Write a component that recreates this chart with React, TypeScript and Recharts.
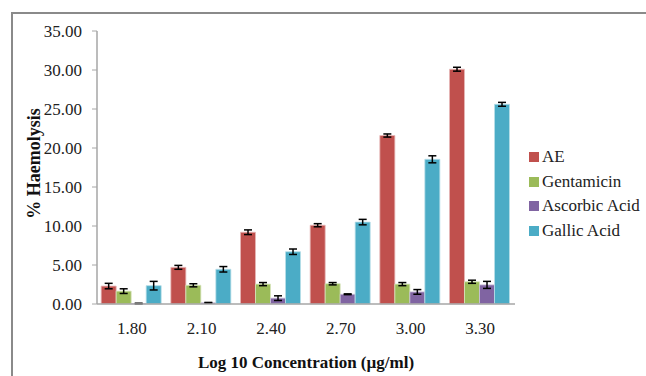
import { BarChart, Bar, XAxis, YAxis, Legend, ErrorBar } from 'recharts';

const concentrations = ['1.80', '2.10', '2.40', '2.70', '3.00', '3.30'];

const ae = [2.3, 4.7, 9.2, 10.1, 21.6, 30.1];
const gentamicin = [1.65, 2.4, 2.55, 2.6, 2.55, 2.85];
const ascorbic = [0.05, 0.15, 0.75, 1.25, 1.55, 2.45];
const gallic = [2.35, 4.45, 6.7, 10.5, 18.55, 25.6];

const aeErr = [0.35, 0.25, 0.3, 0.2, 0.2, 0.25];
const gentamicinErr = [0.3, 0.2, 0.2, 0.15, 0.2, 0.2];
const ascorbicErr = [0.05, 0.05, 0.3, 0.05, 0.3, 0.45];
const gallicErr = [0.55, 0.35, 0.35, 0.35, 0.45, 0.25];

const seriesNames = ['AE', 'Gentamicin', 'Ascorbic Acid', 'Gallic Acid'];
const yTicks = [0, 5, 10, 15, 20, 25, 30, 35];

const chartData = concentrations.map((c, i) => ({
  name: c,
  ae: ae[i],
  aeErr: aeErr[i],
  gentamicin: gentamicin[i],
  gentamicinErr: gentamicinErr[i],
  ascorbic: ascorbic[i],
  ascorbicErr: ascorbicErr[i],
  gallic: gallic[i],
  gallicErr: gallicErr[i],
}));

const font = '"Liberation Serif", "Times New Roman", serif';

function LegendBox({ payload }: any) {
  const items = [...(payload || [])].sort(
    (a: any, b: any) => seriesNames.indexOf(a.value) - seriesNames.indexOf(b.value)
  );
  return (
    <div style={{ fontFamily: font, fontSize: 17, color: '#222', whiteSpace: 'nowrap' }}>
      {items.map((p: any) => (
        <div key={p.value} style={{ height: 24.5, display: 'flex', alignItems: 'center' }}>
          <span style={{ width: 10, height: 10, background: p.color, display: 'inline-block', marginRight: 3 }} />
          {p.value}
        </div>
      ))}
    </div>
  );
}

export default function App() {
  return (
    <div style={{ position: 'fixed', left: 0, top: 0, width: 646, height: 376, overflow: 'hidden', background: '#fff' }}>
      {/* outer frame: only top and left edges fall inside the picture */}
      <div
        style={{
          position: 'absolute',
          left: 11,
          top: 12,
          width: 635,
          height: 364,
          borderTop: '2px solid #8a8a8a',
          borderLeft: '2px solid #8a8a8a',
          boxSizing: 'border-box',
        }}
      />
      <div style={{ position: 'absolute', left: 8, top: 8 }}>
        <BarChart
          width={638}
          height={368}
          data={chartData}
          margin={{ top: 23, right: 14, left: 0, bottom: 0 }}
          barCategoryGap="6%"
          barGap={0}
        >
          <XAxis
            dataKey="name"
            height={72}
            tickLine={false}
            tickSize={0}
            tickMargin={18}
            axisLine={{ stroke: '#a6a6a6', strokeWidth: 1.5 }}
            tick={{ fontFamily: font, fontSize: 17, fill: '#222' }}
            label={{
              value: 'Log 10 Concentration (µg/ml)',
              position: 'insideBottom',
              offset: 8,
              style: { fontFamily: font, fontSize: 17, fontWeight: 'bold', fill: '#111' },
            }}
          />
          <YAxis
            width={89}
            domain={[0, 35]}
            ticks={yTicks}
            interval={0}
            tickFormatter={(v: number) => v.toFixed(2)}
            tickSize={5}
            tickMargin={10}
            tickLine={{ stroke: '#a6a6a6' }}
            axisLine={{ stroke: '#a6a6a6', strokeWidth: 1.5 }}
            tick={{ fontFamily: font, fontSize: 17, fill: '#222' }}
            label={{
              value: '% Haemolysis',
              angle: -90,
              position: 'insideLeft',
              offset: 26,
              dy: -4,
              style: { textAnchor: 'middle', fontFamily: font, fontSize: 18, fontWeight: 'bold', fill: '#111' },
            }}
          />
          <Legend
            layout="vertical"
            align="right"
            verticalAlign="middle"
            content={<LegendBox />}
            wrapperStyle={{ left: 521, top: 137, width: 117 }}
          />
          <Bar dataKey="ae" name="AE" fill="#C0504D" stroke="#e6b8b7" strokeWidth={0.8} isAnimationActive={false}>
            <ErrorBar dataKey="aeErr" width={4} stroke="#000" strokeWidth={1.5} />
          </Bar>
          <Bar dataKey="gentamicin" name="Gentamicin" fill="#9BBB59" stroke="#d7e4bd" strokeWidth={0.8} isAnimationActive={false}>
            <ErrorBar dataKey="gentamicinErr" width={4} stroke="#000" strokeWidth={1.5} />
          </Bar>
          <Bar dataKey="ascorbic" name="Ascorbic Acid" fill="#8064A2" stroke="#ccc1da" strokeWidth={0.8} isAnimationActive={false}>
            <ErrorBar dataKey="ascorbicErr" width={4} stroke="#000" strokeWidth={1.5} />
          </Bar>
          <Bar dataKey="gallic" name="Gallic Acid" fill="#4BACC6" stroke="#b7dee8" strokeWidth={0.8} isAnimationActive={false}>
            <ErrorBar dataKey="gallicErr" width={4} stroke="#000" strokeWidth={1.5} />
          </Bar>
        </BarChart>
      </div>
    </div>
  );
}
